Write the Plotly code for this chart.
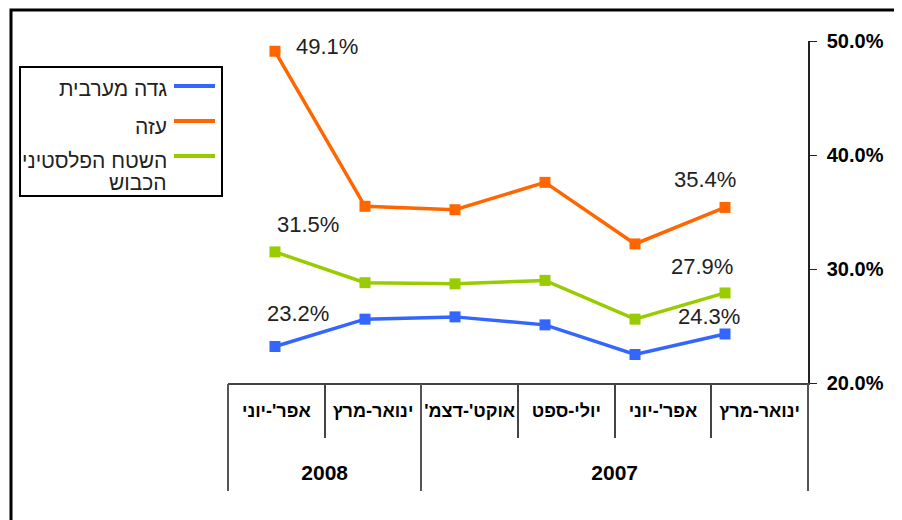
import plotly.graph_objects as go

OFF = 8  # page body margin
W, H = 902 - OFF, 520 - OFF

# ---- data (chronological order) ----
periods = ["ינואר-מרץ 2007", "אפר'-יוני 2007", "יולי-ספט 2007",
           "אוקט'-דצמ' 2007", "ינואר-מרץ 2008", "אפר'-יוני 2008"]
month_labels = ["ינואר-מרץ", "אפר'-יוני", "יולי-ספט", "אוקט'-דצמ'", "ינואר-מרץ", "אפר'-יוני"]
year_labels = ["2007", "2008"]
year_spans = [4, 2]  # number of periods per year

series_names = ["גדה מערבית", "עזה", "השטח הפלסטיני<br>הכבוש"]
west_bank = [24.3, 22.5, 25.1, 25.8, 25.6, 23.2]
gaza = [35.4, 32.2, 37.6, 35.2, 35.5, 49.1]
opt = [27.9, 25.6, 29.0, 28.7, 28.8, 31.5]

y_ticks = [20, 30, 40, 50]

# ---- styles ----
colors = ["#3366FF", "#FF6600", "#99CC00"]
FONT = "Liberation Sans, Arial, sans-serif"
RLM = "\u200f"

def px_x(p):
    return (p - OFF) / W

def px_y(p):
    return 1 - (p - OFF) / H

x_dom = [px_x(228), px_x(808)]
y_dom = [px_y(383), px_y(41)]

fig = go.Figure()
all_series = [west_bank, gaza, opt]
for name, vals, col in zip(series_names, all_series, colors):
    fig.add_trace(go.Scatter(
        x=periods, y=vals, mode="lines+markers", name=name.replace("<br>", " "),
        line=dict(color=col, width=3.5),
        marker=dict(symbol="square", size=11, color=col),
        showlegend=False, hoverinfo="skip"))

# data labels on first and last points
label_shift = {  # (series index, point index): (xshift, yshift)
    (0, 0): (-16, 17), (0, 5): (23, 33),
    (1, 0): (-20, 28), (1, 5): (52, 5),
    (2, 0): (-23, 26), (2, 5): (33, 27),
}
annotations = []
for (si, pi), (dx, dy) in label_shift.items():
    v = all_series[si][pi]
    annotations.append(dict(
        x=periods[pi], y=v, xref="x", yref="y", text=f"{v:.1f}%",
        showarrow=False, xanchor="center", yanchor="middle",
        xshift=dx, yshift=dy, font=dict(family=FONT, size=22, color="#222")))

# manual RTL legend (swatch on the right of the text)
leg_y = [86, 121, 156]
leg_text_y = [[88], [126], [160, 182]]
shapes = []
for name, col, ly, tys in zip(series_names, colors, leg_y, leg_text_y):
    shapes.append(dict(type="line", xref="paper", yref="paper",
                       x0=px_x(174), x1=px_x(215), y0=px_y(ly), y1=px_y(ly),
                       line=dict(color=col, width=4)))
    for part, ty in zip(name.split("<br>"), tys):
        annotations.append(dict(x=px_x(169), y=px_y(ty), xref="paper", yref="paper",
                                text=part, showarrow=False, xanchor="right",
                                yanchor="middle", align="right",
                                font=dict(family=FONT, size=21, color="#222")))
shapes.append(dict(type="rect", xref="paper", yref="paper",
                   x0=px_x(20), x1=px_x(222), y0=px_y(196), y1=px_y(67),
                   line=dict(color="black", width=2)))
# outer frame
shapes.append(dict(type="rect", xref="paper", yref="paper",
                   x0=px_x(11), x1=1.2, y0=-0.2, y1=px_y(10),
                   line=dict(color="black", width=3), layer="below"))

# year axis tick positions
year_centers = []
year_bounds = [0]
acc = 0
for s in year_spans:
    year_centers.append(acc + s / 2)
    acc += s
    year_bounds.append(acc)

n = len(periods)
fig.update_layout(
    width=W, height=H, template="none",
    paper_bgcolor="white", plot_bgcolor="rgba(0,0,0,0)",
    margin=dict(l=0, r=0, t=0, b=0),
    font=dict(family=FONT),
    xaxis=dict(domain=x_dom, type="category", categoryorder="array",
               categoryarray=periods, range=[5.522, -0.922], visible=False,
               automargin=False),
    xaxis2=dict(overlaying="x", anchor="y", range=[n, 0], automargin=False,
                tickmode="array", tickvals=[i + 0.5 for i in range(n)],
                ticktext=[RLM + m + RLM for m in month_labels],
                ticks="outside", ticklen=11,
                tickcolor="rgba(0,0,0,0)", showgrid=False, zeroline=False,
                showline=True, linecolor="#444", linewidth=1.5,
                tickfont=dict(family=FONT, size=18, color="black", weight="bold"),
                minor=dict(tickmode="array",
                           tickvals=[i for i in range(1, n) if i not in year_bounds],
                           ticks="outside", ticklen=53, tickcolor="#444", tickwidth=1.5,
                           showgrid=False)),
    xaxis3=dict(overlaying="x", anchor="y", range=[n, 0], automargin=False,
                tickmode="array", tickvals=year_centers, ticktext=year_labels,
                ticks="outside", ticklen=71, tickcolor="rgba(0,0,0,0)",
                showgrid=False, zeroline=False, showline=False,
                tickfont=dict(family=FONT, size=21, color="black", weight="bold"),
                minor=dict(tickmode="array", tickvals=year_bounds,
                           ticks="outside", ticklen=107, tickcolor="#555", tickwidth=1.5,
                           showgrid=False)),
    yaxis=dict(domain=y_dom, side="right", anchor="x", range=[20, 50],
               tickmode="array", tickvals=y_ticks,
               ticktext=[f"{v:.1f}%" for v in y_ticks],
               ticks="outside", ticklen=7, tickcolor="#222", tickwidth=1,
               ticklabelstandoff=6,
               showline=True, linecolor="#222", linewidth=1.5,
               showgrid=False, zeroline=False, automargin=False,
               tickfont=dict(family=FONT, size=20, color="black", weight="bold")),
    annotations=annotations, shapes=shapes,
)
# attach invisible traces so overlay axes render
fig.add_trace(go.Scatter(x=[0.5], y=[None], xaxis="x2", yaxis="y",
                         showlegend=False, hoverinfo="skip"))
fig.add_trace(go.Scatter(x=[0.5], y=[None], xaxis="x3", yaxis="y",
                         showlegend=False, hoverinfo="skip"))

fig.write_html("out.html")
